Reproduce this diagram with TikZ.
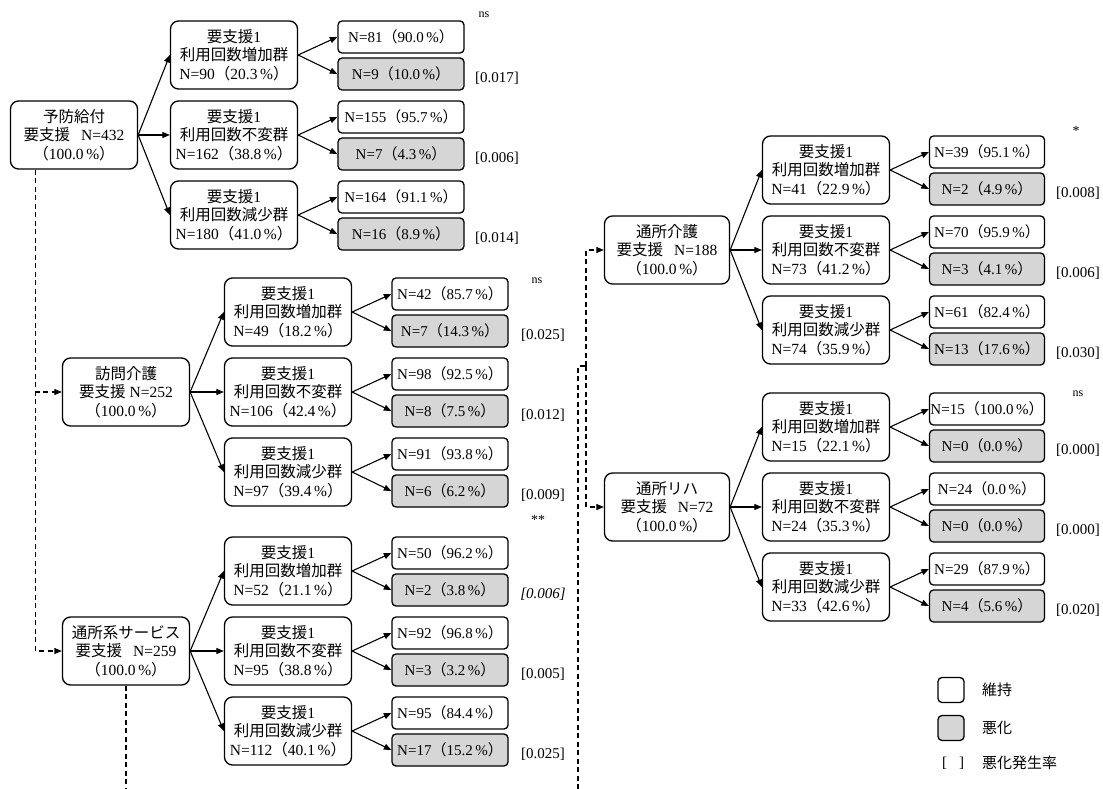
\documentclass[tikz,border=0pt]{standalone}
\usepackage{fontspec}
\setmainfont{Liberation Serif}
\newfontfamily\jp{Noto Sans CJK JP}
\usetikzlibrary{arrows.meta}
\newcommand\fs{\fontsize{15}{18}\selectfont}
\newcommand\fm{\fontsize{15.5}{18.5}\selectfont}
\newcommand\lp{{\jp （}}
\newcommand\rp{{\jp ）}}
\newcommand\ys{{\jp 要支援}}
\newcommand\midtxt[3]{{\jp 要支援}1\\{\jp 利用回数#1}\\N=#2\lp #3\,\%\rp}
\newcommand\lf[2]{N=#1\lp #2\,\%\rp}
\tikzset{
  box/.style={draw, line width=1.3pt, align=center, inner sep=0pt, font=\fs},
  rbox/.style={box, font=\fm, rounded corners=8pt, minimum width=127pt, minimum height=68pt},
  leaf/.style={box, rounded corners=4pt, minimum height=32pt},
  bad/.style={leaf, fill=black!16},
  conn/.style={line width=1.1pt, ->},
  dline/.style={line width=1.1pt, dash pattern=on 5pt off 3.5pt},
  lbl/.style={font=\fs, inner sep=0pt},
  sig/.style={font=\fontsize{12}{13}\selectfont, inner sep=0pt},
  star/.style={font=\fontsize{14}{14}\selectfont, inner sep=0pt}
}
\begin{document}
\begin{tikzpicture}[x=1pt, y=-1pt, >={Triangle[length=7.5pt,width=6pt]}]
\useasboundingbox[fill=white] (0,0) rectangle (1103,789);

% ---------- Group A: 予防給付 ----------
\node[rbox] (A) at (74,135) {{\jp 予防給付}\\\ys\hspace{0.7em}N=432\\\lp 100.0\,\%\rp};
\node[rbox] (A1) at (234,55) {\midtxt{増加群}{90}{20.3}};
\node[rbox] (A2) at (234,135) {\midtxt{不変群}{162}{38.8}};
\node[rbox] (A3) at (234,215) {\midtxt{減少群}{180}{41.0}};
\begin{scope}[every node/.append style={minimum width=126pt}]
\node[leaf] (A1a) at (401,37) {\lf{81}{90.0}};
\node[bad]  (A1b) at (401,74) {\lf{9}{10.0}};
\node[leaf] (A2a) at (401,117) {\lf{155}{95.7}};
\node[bad]  (A2b) at (401,154) {\lf{7}{4.3}};
\node[leaf] (A3a) at (401,197) {\lf{164}{91.1}};
\node[bad]  (A3b) at (401,234) {\lf{16}{8.9}};
\end{scope}
\node[lbl] (A1p) at (497,78) {[0.017]};
\node[lbl] (A2p) at (497,158) {[0.006]};
\node[lbl] (A3p) at (497,238) {[0.014]};
\node[sig] (As) at (484,15) {ns};

% ---------- Group B: 訪問介護 ----------
\node[rbox] (B) at (126,392) {{\jp 訪問介護}\\\ys\ N=252\\\lp 100.0\,\%\rp};
\node[rbox] (B1) at (288,312) {\midtxt{増加群}{49}{18.2}};
\node[rbox] (B2) at (288,392) {\midtxt{不変群}{106}{42.4}};
\node[rbox] (B3) at (288,472) {\midtxt{減少群}{97}{39.4}};
\begin{scope}[every node/.append style={minimum width=116pt}]
\node[leaf] (B1a) at (450,294) {\lf{42}{85.7}};
\node[bad]  (B1b) at (450,331) {\lf{7}{14.3}};
\node[leaf] (B2a) at (450,374) {\lf{98}{92.5}};
\node[bad]  (B2b) at (450,411) {\lf{8}{7.5}};
\node[leaf] (B3a) at (450,454) {\lf{91}{93.8}};
\node[bad]  (B3b) at (450,491) {\lf{6}{6.2}};
\end{scope}
\node[lbl] (B1p) at (543,335) {[0.025]};
\node[lbl] (B2p) at (543,415) {[0.012]};
\node[lbl] (B3p) at (543,495) {[0.009]};
\node[sig] (Bs) at (537,281) {ns};

% ---------- Group C: 通所系サービス ----------
\node[rbox] (C) at (126,651) {{\jp 通所系サービス}\\\ys\hspace{0.7em}N=259\\\lp 100.0\,\%\rp};
\node[rbox] (C1) at (288,571) {\midtxt{増加群}{52}{21.1}};
\node[rbox] (C2) at (288,651) {\midtxt{不変群}{95}{38.8}};
\node[rbox] (C3) at (288,731) {\midtxt{減少群}{112}{40.1}};
\begin{scope}[every node/.append style={minimum width=116pt}]
\node[leaf] (C1a) at (450,553) {\lf{50}{96.2}};
\node[bad]  (C1b) at (450,590) {\lf{2}{3.8}};
\node[leaf] (C2a) at (450,633) {\lf{92}{96.8}};
\node[bad]  (C2b) at (450,670) {\lf{3}{3.2}};
\node[leaf] (C3a) at (450,713) {\lf{95}{84.4}};
\node[bad]  (C3b) at (450,750) {\lf{17}{15.2}};
\end{scope}
\node[lbl] (C1p) at (543,594) {\textit{[0.006]}};
\node[lbl] (C2p) at (543,674) {[0.005]};
\node[lbl] (C3p) at (543,754) {[0.025]};
\node[star] (Cs) at (538,520) {**};

% ---------- Group D: 通所介護 ----------
\node[rbox, minimum width=125pt] (D) at (667,250) {{\jp 通所介護}\\\ys\hspace{0.7em}N=188\\\lp 100.0\,\%\rp};
\node[rbox] (D1) at (826,170) {\midtxt{増加群}{41}{22.9}};
\node[rbox] (D2) at (826,250) {\midtxt{不変群}{73}{41.2}};
\node[rbox] (D3) at (826,330) {\midtxt{減少群}{74}{35.9}};
\begin{scope}[every node/.append style={minimum width=115pt}]
\node[leaf] (D1a) at (987,152) {\lf{39}{95.1}};
\node[bad]  (D1b) at (987,189) {\lf{2}{4.9}};
\node[leaf] (D2a) at (987,232) {\lf{70}{95.9}};
\node[bad]  (D2b) at (987,269) {\lf{3}{4.1}};
\node[leaf] (D3a) at (987,312) {\lf{61}{82.4}};
\node[bad]  (D3b) at (987,349) {\lf{13}{17.6}};
\end{scope}
\node[lbl] (D1p) at (1078,193) {[0.008]};
\node[lbl] (D2p) at (1078,273) {[0.006]};
\node[lbl] (D3p) at (1078,353) {[0.030]};
\node[star] (Ds) at (1076,131) {*};

% ---------- Group E: 通所リハ ----------
\node[rbox, minimum width=125pt] (E) at (667,507) {{\jp 通所リハ}\\\ys\hspace{0.7em}N=72\\\lp 100.0\,\%\rp};
\node[rbox] (E1) at (826,427) {\midtxt{増加群}{15}{22.1}};
\node[rbox] (E2) at (826,507) {\midtxt{不変群}{24}{35.3}};
\node[rbox] (E3) at (826,587) {\midtxt{減少群}{33}{42.6}};
\begin{scope}[every node/.append style={minimum width=115pt}]
\node[leaf] (E1a) at (987,409) {\lf{15}{100.0}};
\node[bad]  (E1b) at (987,446) {\lf{0}{0.0}};
\node[leaf] (E2a) at (987,489) {\lf{24}{0.0}};
\node[bad]  (E2b) at (987,526) {\lf{0}{0.0}};
\node[leaf] (E3a) at (987,569) {\lf{29}{87.9}};
\node[bad]  (E3b) at (987,606) {\lf{4}{5.6}};
\end{scope}
\node[lbl] (E1p) at (1078,450) {[0.000]};
\node[lbl] (E2p) at (1078,530) {[0.000]};
\node[lbl] (E3p) at (1078,610) {[0.020]};
\node[sig] (Es) at (1078,394) {ns};

% ---------- connectors ----------
\foreach \g in {A,B,C,D,E}{
  \foreach \i in {1,2,3}{
    \draw[conn] (\g.east) -- (\g\i.west);
    \draw[conn] (\g\i.east) -- (\g\i a.west);
    \draw[conn] (\g\i.east) -- (\g\i b.west);
  }
}

% ---------- dashed links ----------
\coordinate (aL) at ([xshift=26pt]A.south west);
\draw[dline,->] (aL) |- (C.west);
\draw[dline,->] (aL) |- (B.west);
\coordinate (cB) at (126,789);
\draw[dline] (C.south) -- (cB);
\coordinate (dB) at (578,789);
\coordinate (dJ) at (586,366);
\draw[dline] (dB) |- (dJ);
\draw[dline,->] (dJ) |- (D.west);
\draw[dline,->] (dJ) |- (E.west);

% ---------- legend ----------
\node[leaf, minimum width=26pt, minimum height=25pt] (L1) at (951,690) {};
\node[lbl, anchor=west] (L1t) at (982,690) {\jp 維持};
\node[bad, minimum width=26pt, minimum height=25pt] (L2) at (951,728) {};
\node[lbl, anchor=west] (L2t) at (982,728) {\jp 悪化};
\node[lbl] (L3) at (953,763) {[\hspace{12pt}]};
\node[lbl, anchor=west] (L3t) at (982,763) {\jp 悪化発生率};
\end{tikzpicture}
\end{document}
